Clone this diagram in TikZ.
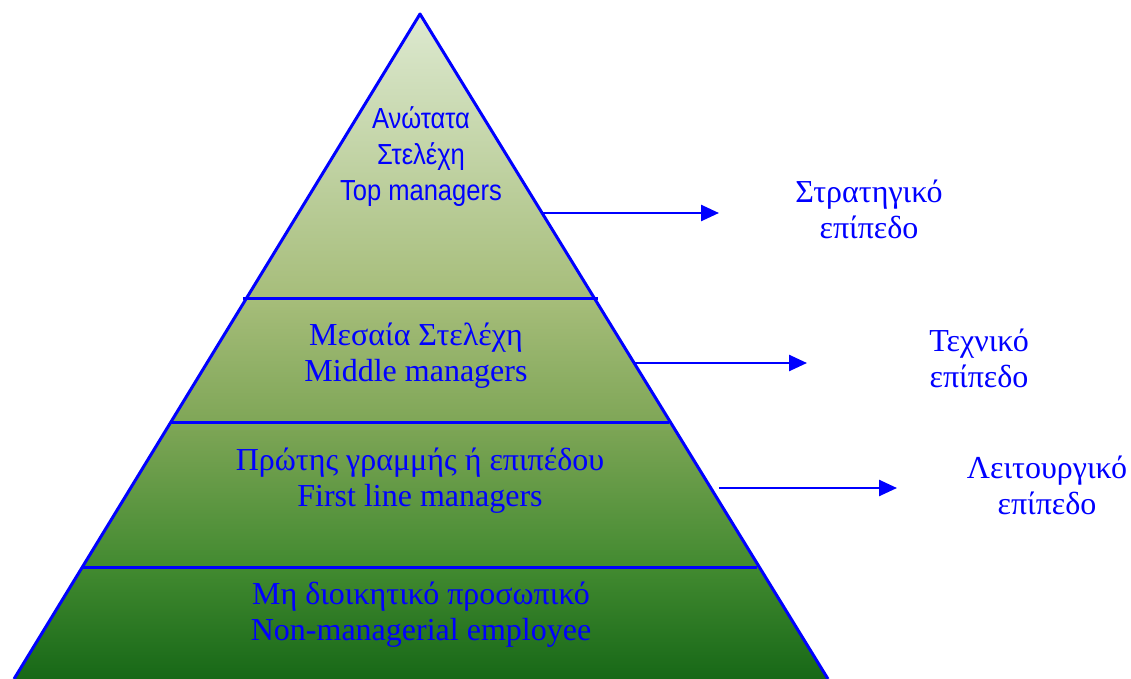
\documentclass[tikz,border=0pt]{standalone}
\usepackage{fontspec}
\setmainfont{Liberation Serif}
\newfontfamily\sansgr[FakeStretch=0.88]{Liberation Sans}
\usetikzlibrary{arrows.meta,calc}
\definecolor{pyrtop}{RGB}{221,233,208}
\definecolor{pyrA}{RGB}{166,189,122}
\definecolor{pyrB}{RGB}{127,166,87}
\definecolor{pyrC}{RGB}{66,138,48}
\definecolor{pyrbot}{RGB}{23,104,23}
\pgfdeclareverticalshading{pyrshade}{100bp}{color(0bp)=(pyrbot); color(25bp)=(pyrbot); color(33.4bp)=(pyrC); color(44.3bp)=(pyrB); color(53.6bp)=(pyrA); color(75bp)=(pyrtop); color(100bp)=(pyrtop)}
\tikzset{
  pyredge/.style={blue, line width=3pt, line join=round},
  divider/.style={blue, line width=3pt},
  levelarrow/.style={blue, line width=2.5pt, -{Triangle[length=18pt,width=16pt]}},
  levellabel/.style={text=blue, align=center, inner sep=0pt, font=\fontsize{32}{36}\selectfont},
  toplabel/.style={text=blue, align=center, inner sep=0pt, font=\sansgr\fontsize{29}{36}\selectfont},
}
\begin{document}
\begin{tikzpicture}[x=1pt,y=-1pt]
\useasboundingbox (0,0) rectangle (1131,679);
\coordinate (apex) at (420,14);
\coordinate (baseL) at (14,679);
\coordinate (baseR) at (828,679);
\shade[shading=pyrshade] (apex) -- (baseR) -- (baseL) -- cycle;
\draw[pyredge] (baseL) -- (apex) -- (baseR);
\draw[divider] (243,298) coordinate (d1L) -- (598,298) coordinate (d1R);
\draw[divider] (171,422) coordinate (d2L) -- (669,422) coordinate (d2R);
\draw[divider] (83,567) coordinate (d3L) -- (757,567) coordinate (d3R);

\node[toplabel] (top) at (421,157) {Ανώτατα\\Στελέχη\\Top managers};
\node[levellabel] (middle) at (416,356) {Μεσαία Στελέχη\\Middle managers};
\node[levellabel] (first) at (420,481) {Πρώτης γραμμής ή επιπέδου\\First line managers};
\node[levellabel] (staff) at (421,615) {Μη διοικητικό προσωπικό\\Non-managerial employee};

\node[levellabel] (strat) at (869,209) {Στρατηγικό\\επίπεδο};
\node[levellabel] (tech) at (979,358) {Τεχνικό\\επίπεδο};
\node[levellabel] (oper) at (1047,485) {Λειτουργικό\\επίπεδο};

\coordinate (s1) at (542,213); \coordinate (e1) at (719,213);
\coordinate (s2) at (634,363); \coordinate (e2) at (807,363);
\coordinate (s3) at (719,488); \coordinate (e3) at (897,488);
\draw[levelarrow] (s1) -- (e1);
\draw[levelarrow] (s2) -- (e2);
\draw[levelarrow] (s3) -- (e3);
\end{tikzpicture}
\end{document}
